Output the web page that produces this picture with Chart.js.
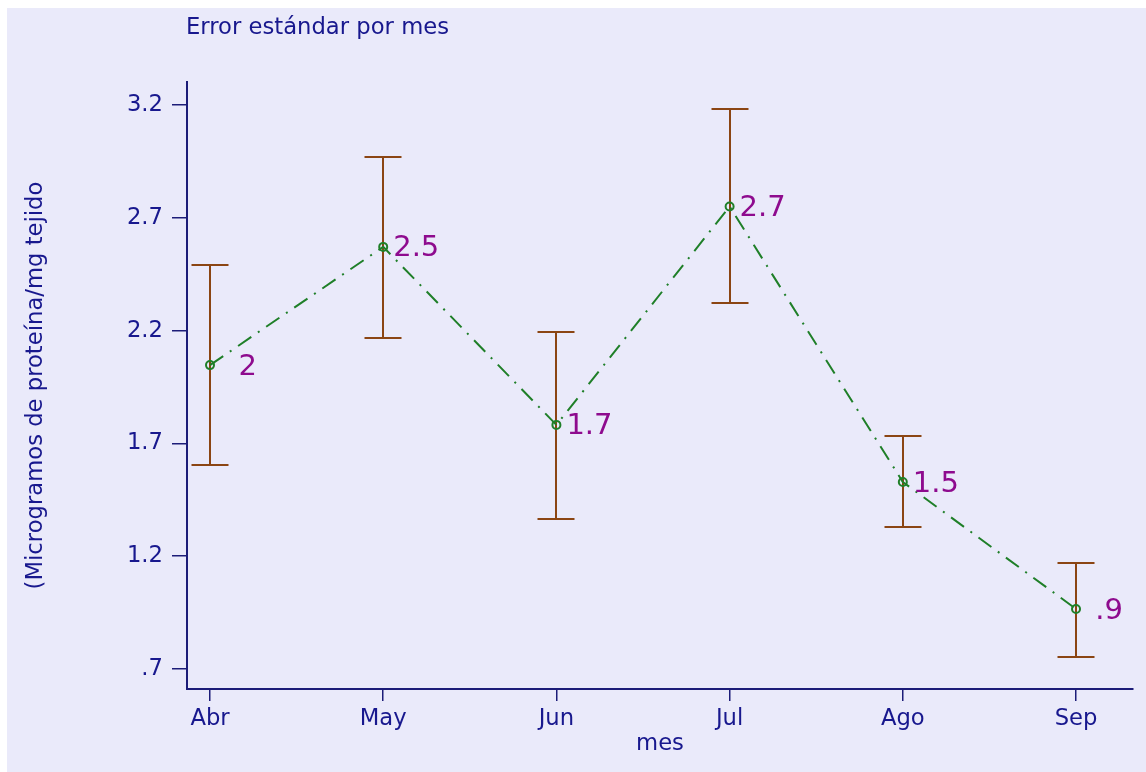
<!DOCTYPE html>
<html>
<head>
<meta charset="utf-8">
<script src="https://cdn.jsdelivr.net/npm/chart.js@4.4.1/dist/chart.umd.min.js"></script>
<style>
  html, body { margin: 0; padding: 0; background: #ffffff; overflow: hidden; }
  canvas { display: block; }
</style>
</head>
<body>
<canvas id="chart" width="1146" height="772"></canvas>
<script>
// Monthly means with their standard-error bounds
const months = ['Abr', 'May', 'Jun', 'Jul', 'Ago', 'Sep'];
const monthIndex = [1, 2, 3, 4, 5, 6];
const means = [2.047, 2.571, 1.782, 2.750, 1.529, 0.966];
const upper = [2.489, 2.970, 2.194, 3.182, 1.733, 1.172];
const lower = [1.604, 2.166, 1.365, 2.322, 1.329, 0.754];

// Axis ticks
const yTicks = [0.7, 1.2, 1.7, 2.2, 2.7, 3.2];
const yTickLabels = ['.7', '1.2', '1.7', '2.2', '2.7', '3.2'];

// Text
const titleText = 'Error estándar por mes';
const yTitle = '(Microgramos de proteína/mg tejido';
const xTitle = 'mes';

const NAVY = '#18188e';
const AXIS = '#1c1c78';
const BROWN = '#8b4513';
const GREEN = '#1f7f28';
const PURPLE = '#8e0b8e';
const BG = '#eaeafa';
const FAMILY = '"DejaVu Sans", Verdana, sans-serif';

// Marker labels: value truncated to one decimal, leading zero dropped
function markerLabel(v) {
  const t = Math.floor(v * 10 + 1e-9) / 10;
  let s = String(t);
  if (s.startsWith('0.')) s = s.slice(1);
  return s;
}

const backgroundPlugin = {
  id: 'background',
  beforeDraw(chart) {
    const ctx = chart.ctx;
    ctx.save();
    ctx.fillStyle = '#ffffff';
    ctx.fillRect(0, 0, chart.width, chart.height);
    ctx.fillStyle = BG;
    ctx.fillRect(7, 8, chart.width - 7, chart.height - 8);
    ctx.fillStyle = NAVY;
    ctx.font = '22.7px ' + FAMILY;
    ctx.textAlign = 'left';
    ctx.textBaseline = 'middle';
    ctx.fillText(titleText, 186, 28);
    ctx.restore();
  }
};

const errorBarPlugin = {
  id: 'errorBars',
  beforeDatasetsDraw(chart) {
    const ctx = chart.ctx;
    const xs = chart.scales.x, ys = chart.scales.y;
    const half = 18.5;
    ctx.save();
    ctx.strokeStyle = BROWN;
    ctx.lineWidth = 2;
    monthIndex.forEach((m, i) => {
      const x = Math.round(xs.getPixelForValue(m));
      const yt = Math.round(ys.getPixelForValue(upper[i]));
      const yb = Math.round(ys.getPixelForValue(lower[i]));
      ctx.beginPath();
      ctx.moveTo(x, yt); ctx.lineTo(x, yb);
      ctx.moveTo(x - half, yt); ctx.lineTo(x + half, yt);
      ctx.moveTo(x - half, yb); ctx.lineTo(x + half, yb);
      ctx.stroke();
    });
    ctx.restore();
  }
};

const labelPlugin = {
  id: 'markerLabels',
  afterDatasetsDraw(chart) {
    const ctx = chart.ctx;
    const meta = chart.getDatasetMeta(0);
    ctx.save();
    ctx.fillStyle = PURPLE;
    ctx.font = '29px ' + FAMILY;
    ctx.textAlign = 'left';
    ctx.textBaseline = 'middle';
    meta.data.forEach((pt, i) => {
      const txt = markerLabel(means[i]).padStart(3, ' ');
      ctx.fillText(txt, pt.x + 10, pt.y + 2);
    });
    ctx.restore();
  }
};

Chart.defaults.font.family = FAMILY;
Chart.defaults.color = NAVY;

new Chart(document.getElementById('chart'), {
  type: 'line',
  data: {
    datasets: [{
      data: monthIndex.map((m, i) => ({ x: m, y: means[i] })),
      borderColor: GREEN,
      borderWidth: 2,
      borderDash: [16, 8, 2, 8],
      pointRadius: 4,
      pointBorderWidth: 2,
      pointBorderColor: GREEN,
      pointBackgroundColor: 'rgba(0,0,0,0)',
      pointStyle: 'circle',
      tension: 0,
      fill: false,
      clip: false
    }]
  },
  options: {
    responsive: false,
    devicePixelRatio: 1,
    animation: false,
    layout: { padding: { left: 7, top: 82, right: 13, bottom: 0 } },
    plugins: {
      legend: { display: false },
      tooltip: { enabled: false },
      title: { display: false }
    },
    scales: {
      x: {
        type: 'linear',
        min: 0.8672,
        max: 6.329,
        afterFit(scale) { scale.height = 83; },
        afterBuildTicks(scale) { scale.ticks = monthIndex.map(v => ({ value: v })); },
        ticks: {
          autoSkip: false,
          maxRotation: 0,
          padding: 4,
          color: NAVY,
          font: { size: 22.7 },
          callback: (v, i) => months[i]
        },
        grid: {
          drawOnChartArea: false,
          drawTicks: true,
          tickLength: 12,
          color: AXIS,
          lineWidth: 1.5
        },
        border: { display: true, color: AXIS, width: 2 },
        title: {
          display: true,
          text: xTitle,
          color: NAVY,
          font: { size: 22.7 },
          padding: { top: 0, bottom: 14 }
        }
      },
      y: {
        type: 'linear',
        min: 0.6113,
        max: 3.302,
        afterFit(scale) { scale.width = 180; },
        afterBuildTicks(scale) { scale.ticks = yTicks.map(v => ({ value: v })); },
        ticks: {
          autoSkip: false,
          padding: 9,
          color: NAVY,
          font: { size: 22.7 },
          callback: (v, i) => yTickLabels[i]
        },
        grid: {
          drawOnChartArea: false,
          drawTicks: true,
          tickLength: 15,
          color: AXIS,
          lineWidth: 1.5
        },
        border: { display: true, color: AXIS, width: 2 },
        title: {
          display: true,
          text: yTitle,
          color: NAVY,
          font: { size: 22.7 },
          padding: { top: 15, bottom: 0 }
        }
      }
    }
  },
  plugins: [backgroundPlugin, errorBarPlugin, labelPlugin]
});
</script>
</body>
</html>
